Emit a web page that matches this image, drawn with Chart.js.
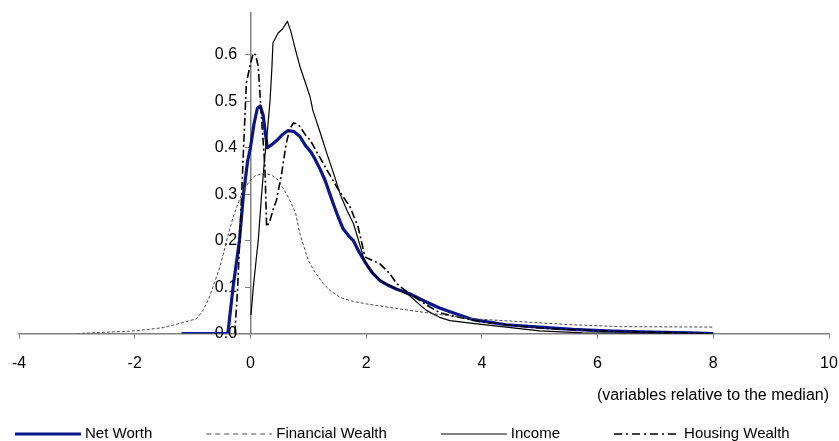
<!DOCTYPE html>
<html><head><meta charset="utf-8">
<script src="https://cdn.jsdelivr.net/npm/chart.js@4.4.1/dist/chart.umd.min.js"></script>
<style>html,body{margin:0;padding:0;background:#fff;}</style>
</head><body>
<canvas id="c" width="839" height="441"></canvas>
<script>
// ---- data (x values relative to the median, density values) ----
const seriesNames = ["Net Worth", "Financial Wealth", "Income", "Housing Wealth"];

const netWorthX = [-1.19,-0.39,-0.30,-0.19,-0.12,-0.05,0.0,0.06,0.12,0.17,0.22,0.26,0.29,0.35,0.45,0.55,0.65,0.75,0.85,0.95,1.05,1.11,1.2,1.29,1.36,1.43,1.52,1.60,1.70,1.78,1.88,1.98,2.1,2.24,2.38,2.52,2.75,3.04,3.27,3.45,3.85,4.42,5.0,5.57,6.15,6.73,7.59,8.0];
const netWorthY = [0,0,0.10,0.20,0.30,0.37,0.40,0.45,0.485,0.49,0.47,0.43,0.40,0.405,0.415,0.428,0.437,0.435,0.425,0.405,0.39,0.377,0.355,0.33,0.305,0.28,0.25,0.226,0.21,0.20,0.175,0.154,0.132,0.114,0.104,0.096,0.086,0.068,0.055,0.047,0.030,0.019,0.014,0.009,0.006,0.004,0.0015,0];

const finWealthX = [-3.0,-2.5,-1.97,-1.5,-1.16,-0.93,-0.82,-0.72,-0.62,-0.53,-0.45,-0.38,-0.30,-0.2,-0.12,0.0,0.08,0.25,0.38,0.48,0.58,0.68,0.78,0.855,0.93,1.0,1.1,1.26,1.4,1.55,1.75,2.0,2.58,3.16,3.84,4.88,5.57,6.38,8.0];
const finWealthY = [0,0.003,0.006,0.013,0.024,0.032,0.05,0.075,0.11,0.143,0.18,0.215,0.25,0.285,0.31,0.33,0.34,0.345,0.34,0.33,0.31,0.287,0.26,0.215,0.185,0.158,0.135,0.107,0.09,0.078,0.07,0.064,0.053,0.043,0.032,0.024,0.019,0.015,0.014];

const incomeX = [0.01,0.05,0.1,0.135,0.19,0.24,0.28,0.34,0.37,0.39,0.48,0.55,0.64,0.7,0.78,0.855,0.95,1.03,1.08,1.2,1.32,1.45,1.55,1.67,1.78,1.87,1.95,2.05,2.18,2.3,2.47,2.75,2.9,3.04,3.27,3.45,3.84,4.42,5.0,5.74,6.5,8.0];
const incomeY = [0.04,0.1,0.16,0.20,0.294,0.37,0.417,0.503,0.57,0.626,0.647,0.655,0.672,0.65,0.61,0.575,0.54,0.51,0.48,0.435,0.388,0.34,0.30,0.265,0.237,0.2,0.165,0.14,0.122,0.11,0.10,0.082,0.065,0.05,0.035,0.028,0.022,0.014,0.006,0.0015,0.0005,0];

const housingX = [-0.27,-0.22,-0.18,-0.12,-0.07,0.0,0.05,0.09,0.135,0.19,0.25,0.28,0.33,0.4,0.45,0.54,0.62,0.68,0.74,0.8,0.855,0.97,1.03,1.15,1.26,1.38,1.49,1.6,1.72,1.86,1.98,2.1,2.24,2.41,2.53,2.75,3.04,3.27,3.6,4.0,4.5,5.0,6.0,7.0,8.0];
const housingY = [0,0.1,0.216,0.395,0.54,0.58,0.604,0.6,0.575,0.467,0.36,0.23,0.24,0.27,0.287,0.345,0.41,0.44,0.453,0.452,0.446,0.424,0.417,0.39,0.366,0.34,0.316,0.295,0.273,0.23,0.165,0.158,0.15,0.129,0.107,0.086,0.062,0.045,0.035,0.025,0.018,0.012,0.006,0.003,0];

const xTickValues = [-4,-2,0,2,4,6,8,10];
const yTickValues = [0,0.1,0.2,0.3,0.4,0.5,0.6];
const xAxisTitle = "(variables relative to the median)";

// ---- build ----
function pts(xs, ys){ return xs.map((x,i)=>({x:x, y:ys[i]})); }
const FONT = "'Liberation Sans', Arial, sans-serif";

const datasets = [
  {label: seriesNames[1], data: pts(finWealthX, finWealthY), borderColor:'#4a4a4a', borderWidth:1, borderDash:[3,2], legendDash:[5,4], legendWidth:1},
  {label: seriesNames[2], data: pts(incomeX, incomeY), borderColor:'#000000', borderWidth:1.2, borderDash:[], legendDash:[], legendWidth:1.2},
  {label: seriesNames[3], data: pts(housingX, housingY), borderColor:'#000000', borderWidth:1.6, borderDash:[8,3,2,3], legendDash:[8,4,2,4], legendWidth:1.6},
  {label: seriesNames[0], data: pts(netWorthX, netWorthY), borderColor:'#0b168c', borderWidth:3.2, borderDash:[], legendDash:[], legendWidth:3.2}
].map(d => Object.assign({pointRadius:0, pointHoverRadius:0, tension:0, fill:false, borderJoinStyle:'round'}, d));

const legendOrder = [3,0,1,2];

// legend drawn as one row, items laid out one after another
const customLegend = {
  id:'customLegend',
  afterDraw(chart){
    const ctx = chart.ctx;
    const y = 434, lineLen = 66, textGap = 4, itemGap = 54;
    let x = 15;
    ctx.save();
    ctx.font = "15px " + FONT;
    ctx.textBaseline = 'middle';
    ctx.textAlign = 'left';
    legendOrder.forEach((di) => {
      const ds = chart.data.datasets[di];
      ctx.beginPath();
      ctx.setLineDash(ds.legendDash);
      ctx.lineWidth = ds.legendWidth;
      ctx.strokeStyle = ds.borderColor;
      ctx.moveTo(x, y); ctx.lineTo(x + lineLen, y);
      ctx.stroke();
      ctx.setLineDash([]);
      ctx.fillStyle = '#000';
      const tx = x + lineLen + textGap;
      ctx.fillText(ds.label, tx, y);
      x = tx + ctx.measureText(ds.label).width + itemGap;
    });
    ctx.restore();
  }
};

new Chart(document.getElementById('c'), {
  type:'line',
  data:{datasets},
  options:{
    responsive:false,
    animation:false,
    devicePixelRatio:1,
    layout:{padding:{left:19, right:10, top:13, bottom:36}},
    plugins:{legend:{display:false}, tooltip:{enabled:false}},
    scales:{
      x:{
        type:'linear', min:-4, max:10,
        afterBuildTicks: s => { s.ticks = xTickValues.map(v=>({value:v})); },
        afterFit: s => { s.paddingLeft = 8; s.paddingRight = 8; },
        ticks:{color:'#000', font:{family:FONT, size:16}, padding:15, maxRotation:0, autoSkip:false},
        grid:{display:true, drawOnChartArea:false, drawTicks:true, tickLength:5, color:'#808080'},
        border:{display:true, color:'#808080', width:1.5},
        title:{display:true, text:xAxisTitle, align:'end', color:'#000', font:{family:FONT, size:16}, padding:{top:-2, bottom:0}}
      },
      y:{
        type:'linear', min:0, max:0.69, position:{x:0},
        afterBuildTicks: s => { s.ticks = yTickValues.map(v=>({value:v})); },
        ticks:{color:'#000', font:{family:FONT, size:16}, callback: v => v.toFixed(1) + '   '},
        grid:{display:true, drawOnChartArea:false, drawTicks:true, tickLength:5, color:'#808080'},
        border:{display:true, color:'#808080', width:1.5}
      }
    }
  },
  plugins:[customLegend]
});
</script>
</body></html>
